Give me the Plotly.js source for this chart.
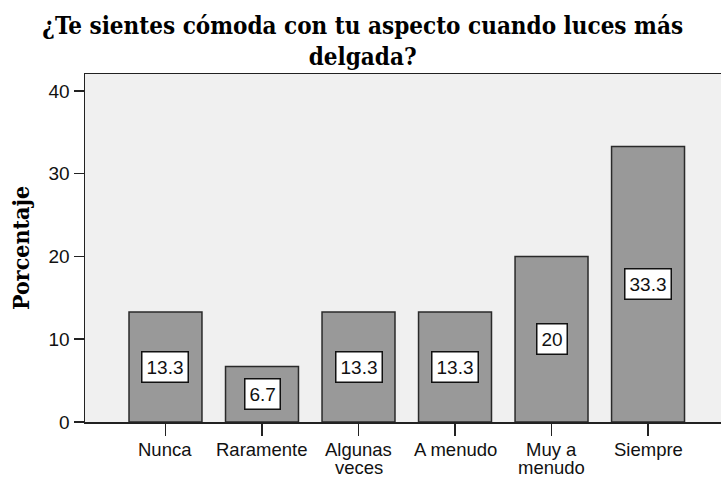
<!DOCTYPE html>
<html>
<head>
<meta charset="utf-8">
<script src="https://cdn.plot.ly/plotly-3.0.1.min.js"></script>
<style>
  html, body { margin: 0; padding: 0; background: #fff; overflow: hidden; }
</style>
</head>
<body>
<div id="chart" style="width:721px;height:478px;"></div>
<script>
// categories and percentages
var categories = ["Nunca", "Raramente", "Algunas veces", "A menudo", "Muy a menudo", "Siempre"];
var tickLines = [["Nunca"], ["Raramente"], ["Algunas", "veces"], ["A menudo"], ["Muy a", "menudo"], ["Siempre"]];
var percentages = [13.3, 6.7, 13.3, 13.3, 20, 33.3];
var percentLabels = ["13.3", "6.7", "13.3", "13.3", "20", "33.3"];
var yTicks = [0, 10, 20, 30, 40];

var serif = "'DejaVu Serif Condensed', 'Liberation Serif', serif";
var sans = "'Liberation Sans', Arial, sans-serif";

var trace = {
    type: "bar",
    x: categories,
    y: percentages,
    width: 0.756,
    marker: { color: "#999999", line: { color: "#2a2a2a", width: 1.5 } },
    hoverinfo: "none"
};

var notes = [];
// white value boxes in the middle of each bar
for (let i = 0; i < categories.length; i++) {
    notes.push({
        x: categories[i],
        y: percentages[i] / 2,
        text: percentLabels[i],
        showarrow: false,
        font: { family: sans, size: 19, color: "#111" },
        bgcolor: "#ffffff",
        bordercolor: "#111111",
        borderwidth: 1.5,
        borderpad: 4
    });
}
// category labels under the axis, tight line spacing like the original
for (let i = 0; i < categories.length; i++) {
    for (let k = 0; k < tickLines[i].length; k++) {
        notes.push({
            x: categories[i],
            xref: "x",
            y: 0,
            yref: "paper",
            yanchor: "middle",
            yshift: -27.4 - 18 * k,
            text: tickLines[i][k],
            showarrow: false,
            font: { family: sans, size: 18.5, color: "#111" }
        });
    }
}

var layout = {
    width: 721,
    height: 478,
    margin: { l: 85, r: 0, t: 74, b: 56 },
    paper_bgcolor: "#ffffff",
    plot_bgcolor: "#f0f0f0",
    showlegend: false,
    title: {
        text: "¿Te sientes cómoda con tu aspecto cuando luces más<br>delgada?",
        font: { family: serif, size: 24, color: "#000", weight: "bold" },
        x: 0.503, xref: "container", xanchor: "center",
        y: 0.929, yref: "container", yanchor: "top"
    },
    xaxis: {
        type: "category",
        range: [-0.834, 5.756],
        showline: true, mirror: true, linecolor: "#222", linewidth: 1.5,
        ticks: "outside", ticklen: 12, tickwidth: 1.5, tickcolor: "#222",
        showticklabels: false,
        showgrid: false, zeroline: false, fixedrange: true
    },
    yaxis: {
        range: [0, 42.05],
        tickvals: yTicks,
        showline: true, mirror: false, linecolor: "#222", linewidth: 1.5,
        ticks: "outside", ticklen: 10, tickwidth: 1.5, tickcolor: "#222",
        tickfont: { family: sans, size: 19, color: "#111" },
        showgrid: false, zeroline: false, fixedrange: true,
        title: { text: "Porcentaje", font: { family: serif, size: 23, color: "#000", weight: "bold" }, standoff: 12 }
    },
    annotations: notes,
    bargap: 0.2
};

Plotly.newPlot("chart", [trace], layout, { displayModeBar: false, staticPlot: true });
</script>
</body>
</html>
